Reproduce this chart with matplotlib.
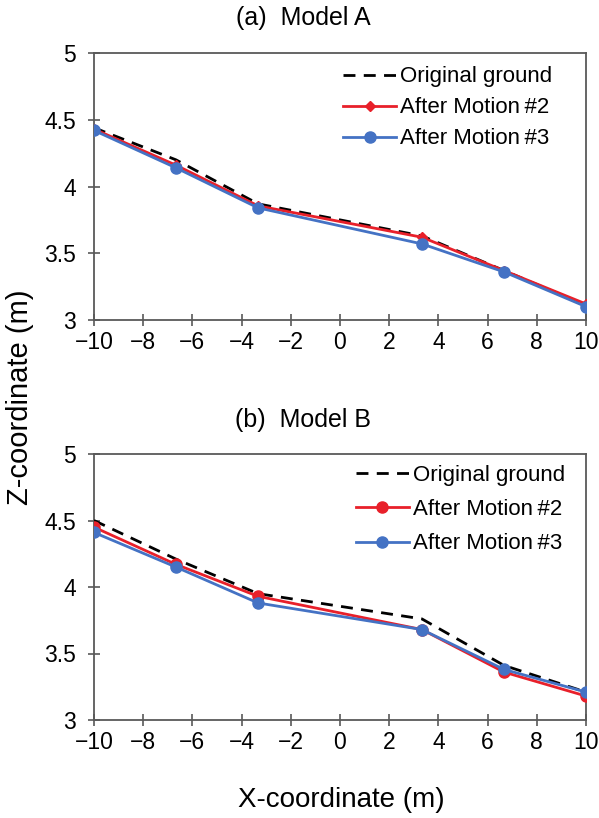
import numpy as np
import matplotlib.pyplot as plt

plt.rcParams['font.family'] = ['Liberation Sans', 'DejaVu Sans']

x = [-10, -6.67, -3.33, 3.33, 6.67, 10]

# Model A surface profiles (m)
a_original = [4.44, 4.20, 3.87, 3.63, 3.37, 3.11]
a_motion2 = [4.43, 4.16, 3.855, 3.62, 3.37, 3.12]
a_motion3 = [4.42, 4.14, 3.84, 3.57, 3.36, 3.10]

# Model B surface profiles (m)
b_original = [4.50, 4.21, 3.95, 3.76, 3.41, 3.21]
b_motion2 = [4.45, 4.17, 3.93, 3.68, 3.36, 3.18]
b_motion3 = [4.41, 4.15, 3.88, 3.68, 3.38, 3.21]

titles = ['(a)  Model A', '(b)  Model B']
xticks = np.arange(-10, 11, 2)
yticks = [3, 3.5, 4, 4.5, 5]

RED = '#e8202a'
BLUE = '#4472c4'
SPINE = '#595959'


def draw(ax, orig, m2, m3, m2_marker, m2_size, leg_xy, leg_space):
    ax.plot(x, orig, color='black', lw=2, ls=(0, (4.3, 3)), label='Original ground', zorder=3)
    ax.plot(x, m2, color=RED, lw=2, marker=m2_marker, ms=m2_size, label='After Motion\u2009#2', zorder=4)
    ax.plot(x, m3, color=BLUE, lw=2, marker='o', ms=8, label='After Motion\u2009#3', zorder=5)
    ax.set_xlim(-10, 10)
    ax.set_ylim(3, 5)
    ax.set_xticks(xticks)
    ax.set_xticklabels(['\u2212' + str(-t) if t < 0 else str(t) for t in xticks])
    ax.set_yticks(yticks)
    ax.set_yticklabels(['3', '3.5', '4', '4.5', '5'])
    ax.tick_params(direction='inout', length=8, width=1.2, color=SPINE, labelsize=16.5)
    ax.tick_params(axis='x', pad=4)
    ax.tick_params(axis='y', pad=9)
    for s in ax.spines.values():
        s.set_color(SPINE)
        s.set_linewidth(1.3)
    ax.legend(loc='upper left', bbox_to_anchor=leg_xy, frameon=False, fontsize=16,
              handlelength=2.4, handletextpad=0.18, labelspacing=leg_space,
              borderpad=0, borderaxespad=0)


fig = plt.figure(figsize=(5.99, 8.18), dpi=100)
ax1 = fig.add_axes([94 / 599, 1 - 320 / 818, 492 / 599, 267 / 818])
ax2 = fig.add_axes([94 / 599, 1 - 720 / 818, 492 / 599, 266 / 818])

draw(ax1, a_original, a_motion2, a_motion3, 'D', 5, (0.506, 0.95), 0.45)
draw(ax2, b_original, b_motion2, b_motion3, 'o', 8, (0.532, 0.96), 0.6)

fig.text(303 / 599, 1 - 18 / 818, titles[0], ha='center', va='center', fontsize=18)
fig.text(303 / 599, 1 - 420 / 818, titles[1], ha='center', va='center', fontsize=18)
fig.text(20 / 599, 1 - 397 / 818, 'Z-coordinate (m)', rotation=90, va='center', ha='center', fontsize=21)
fig.text(341 / 599, 1 - 800 / 818, 'X-coordinate (m)', va='center', ha='center', fontsize=20)

fig.savefig('out.png', dpi=100)
plt.close(fig)
